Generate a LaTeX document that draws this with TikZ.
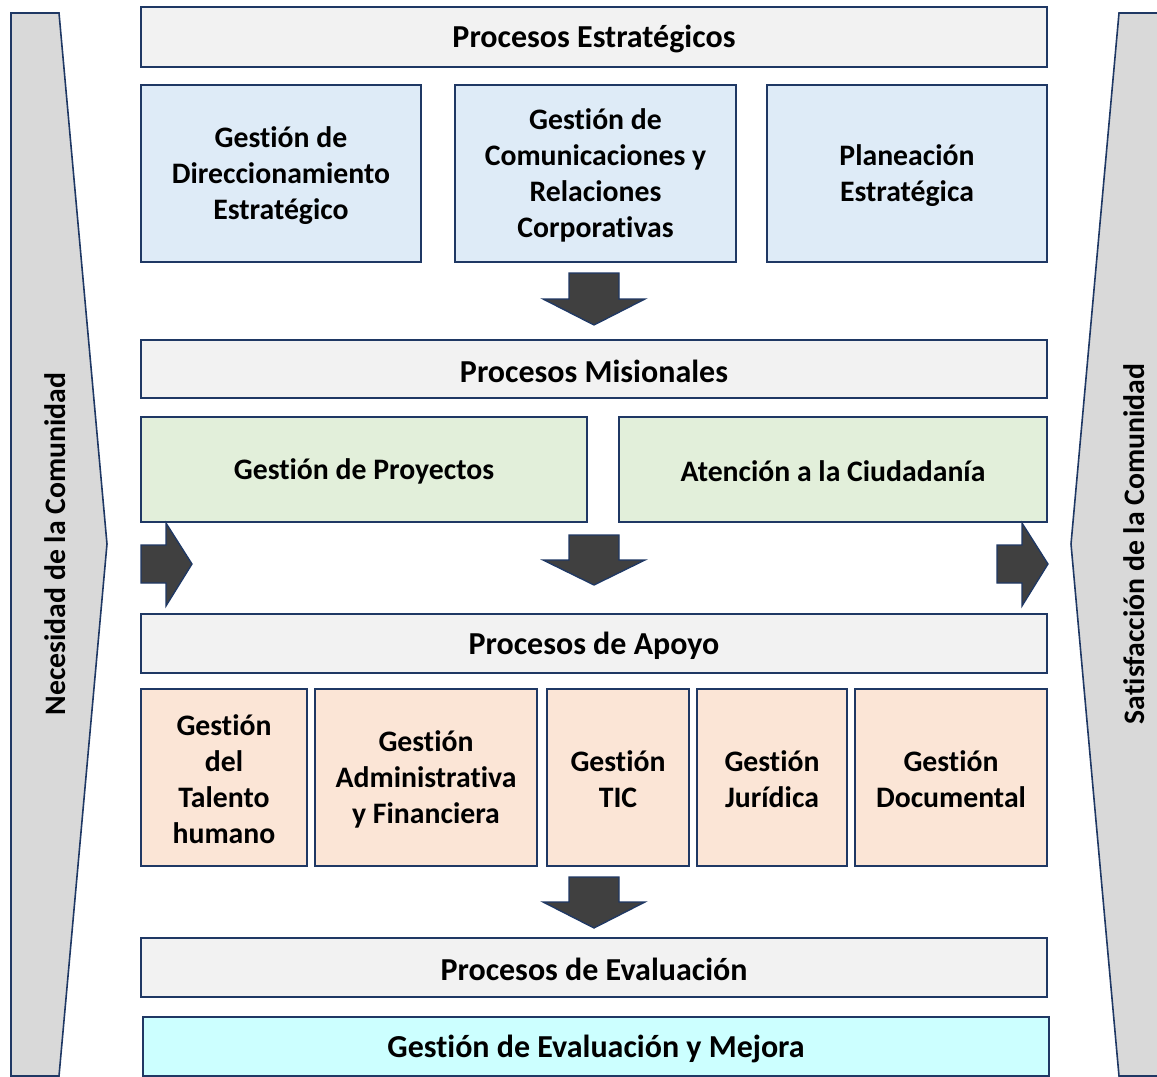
\documentclass[tikz,border=0pt]{standalone}
\usepackage{fontspec}
\setmainfont[Ligatures=NoCommon]{Carlito}
\definecolor{navy}{HTML}{1F3864}
\definecolor{hdr}{HTML}{F2F2F2}
\definecolor{blu}{HTML}{DEEBF7}
\definecolor{grn}{HTML}{E2EFDA}
\definecolor{org}{HTML}{FBE5D6}
\definecolor{cyn}{HTML}{CCFFFF}
\definecolor{side}{HTML}{D9D9D9}
\definecolor{arr}{HTML}{404040}
\newcommand\pbox[7]{\node[#6, minimum width={(#4-#2)*0.75pt}, minimum height={(#5-#3)*0.75pt}] (#1) at ({(#2+#4)/2},{(#3+#5)/2}) {}; \node[#6, draw=none, fill=none] (#1-t) at ({(#2+#4)/2},{(#3+#5)/2+2}) {#7};}
\tikzset{
  base/.style={draw=navy, line width=1.2pt, inner sep=0pt, align=center,
    font=\fontsize{22.3}{27}\selectfont\bfseries},
  hbox/.style={base, fill=hdr, font=\fontsize{24}{27}\selectfont\bfseries},
  bbox/.style={base, fill=blu},
  gbox/.style={base, fill=grn},
  obox/.style={base, fill=org},
  cbox/.style={base, fill=cyn, font=\fontsize{24}{27}\selectfont\bfseries},
  sidepanel/.style={draw=navy, line width=1.2pt, fill=side},
  sidetext/.style={font=\fontsize{22.3}{27}\selectfont\bfseries, rotate=90},
  blockarrow/.style={draw=navy, line width=1pt, fill=arr, line join=miter}
}
\begin{document}
\begin{tikzpicture}[x=0.75pt,y=-0.75pt]
\useasboundingbox (0,0) rectangle (1157,1077);
\clip (0,0) rectangle (1157,1077);
% side panels
\draw[sidepanel] (11,13) -- (59,13) -- (107,544) -- (59,1076) -- (11,1076) -- cycle;
\draw[sidepanel] (1119,13) -- (1175,13) -- (1175,1076) -- (1119,1076) -- (1071,544) -- cycle;
\node[sidetext] (nec) at (55,544) {Necesidad de la Comunidad};
\node[sidetext] (sat) at (1134,544) {Satisfacción de la Comunidad};
% strategic
\pbox{pe}{141}{7}{1047}{67}{hbox}{Procesos Estratégicos}
\pbox{s1}{141}{85}{421}{262}{bbox}{Gestión de\\Direccionamiento\\Estratégico}
\pbox{s2}{455}{85}{736}{262}{bbox}{Gestión de\\Comunicaciones y\\Relaciones\\Corporativas}
\pbox{s3}{767}{85}{1047}{262}{bbox}{Planeación\\Estratégica}
% misional
\pbox{pm}{141}{340}{1047}{398}{hbox}{Procesos Misionales}
\pbox{m1}{141}{417}{587}{522}{gbox}{Gestión de Proyectos}
\pbox{m2}{619}{417}{1047}{522}{gbox}{Atención a la Ciudadanía}
% apoyo
\pbox{pa}{141}{614}{1047}{673}{hbox}{Procesos de Apoyo}
\pbox{a1}{141}{689}{307}{866}{obox}{Gestión\\del\\Talento\\humano}
\pbox{a2}{315}{689}{537}{866}{obox}{Gestión\\Administrativa\\y Financiera}
\pbox{a3}{547}{689}{689}{866}{obox}{Gestión\\TIC}
\pbox{a4}{697}{689}{847}{866}{obox}{Gestión\\Jurídica}
\pbox{a5}{855}{689}{1047}{866}{obox}{Gestión\\Documental}
% evaluacion
\pbox{pv}{141}{938}{1047}{997}{hbox}{Procesos de Evaluación}
\pbox{v1}{143}{1017}{1049}{1076}{cbox}{Gestión de Evaluación y Mejora}
% block arrows
\draw[blockarrow] (569,273) -- (619,273) -- (619,299) -- (645,299) -- (594,325) -- (543,299) -- (569,299) -- cycle;
\draw[blockarrow] (569,535) -- (619,535) -- (619,560) -- (645,560) -- (594,585) -- (543,560) -- (569,560) -- cycle;
\draw[blockarrow] (569,877) -- (619,877) -- (619,902) -- (645,902) -- (594,928) -- (543,902) -- (569,902) -- cycle;
\draw[blockarrow] (141,545) -- (166,545) -- (166,523) -- (192,564) -- (166,606) -- (166,583) -- (141,583) -- cycle;
\draw[blockarrow] (997,545) -- (1022,545) -- (1022,523) -- (1048,564) -- (1022,606) -- (1022,583) -- (997,583) -- cycle;
\end{tikzpicture}
\end{document}
